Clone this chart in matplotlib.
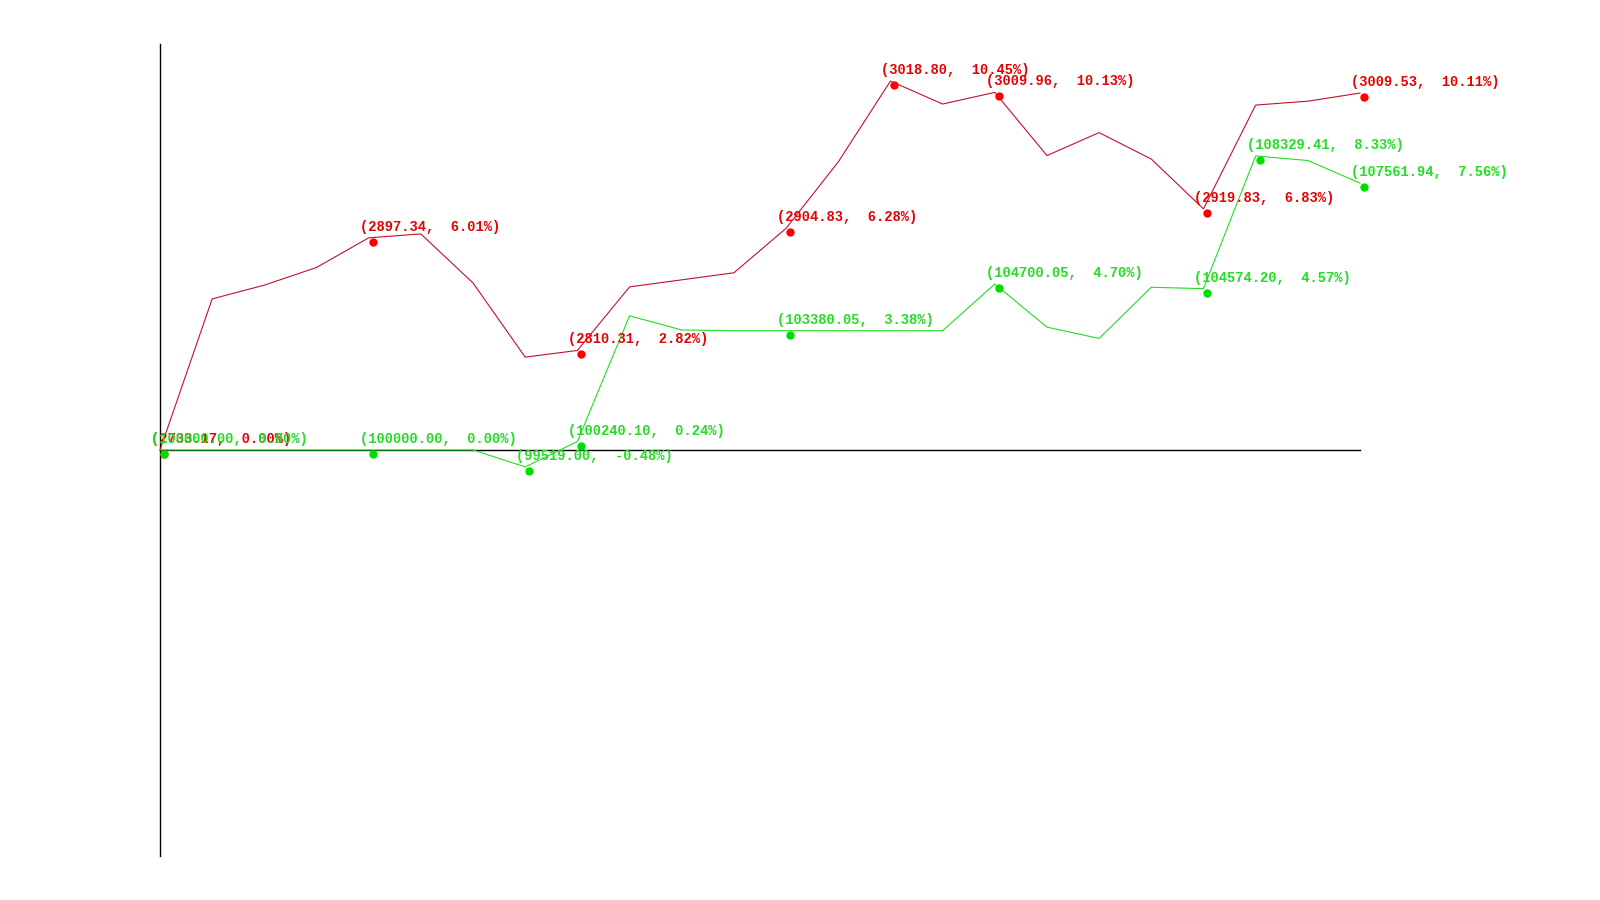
import matplotlib
matplotlib.use("Agg")
import matplotlib.pyplot as plt
import matplotlib.transforms as mtransforms

# Cumulative return (%) per period
red_pct = [0.00, 4.28, 4.67, 5.17, 6.01, 6.12, 4.73, 2.63, 2.82, 4.62, 4.82, 5.02,
           6.28, 8.16, 10.45, 9.80, 10.13, 8.34, 8.99, 8.24, 6.83, 9.77, 9.88, 10.11]
green_pct = [0.00, 0.00, 0.00, 0.00, 0.00, 0.00, 0.00, -0.48, 0.24, 3.80, 3.40, 3.38,
             3.38, 3.38, 3.38, 3.38, 4.70, 3.48, 3.16, 4.61, 4.57, 8.33, 8.20, 7.56]

# Annotated points
red_idx = [0, 4, 8, 12, 14, 16, 20, 23]
red_val = [2733.17, 2897.34, 2810.31, 2904.83, 3018.80, 3009.96, 2919.83, 3009.53]
red_lab_pct = [0.00, 6.01, 2.82, 6.28, 10.45, 10.13, 6.83, 10.11]

green_idx = [0, 4, 7, 8, 12, 16, 20, 21, 23]
green_val = [100000.00, 100000.00, 99519.00, 100240.10, 103380.05, 104700.05,
             104574.20, 108329.41, 107561.94]
green_lab_pct = [0.00, 0.00, -0.48, 0.24, 3.38, 4.70, 4.57, 8.33, 7.56]

RED_LINE = "#c4102e"
RED_DOT = "#ff0000"
RED_TXT = "#e60000"
GREEN = "#22dd22"
GREEN_DOT = "#00dd00"

fig = plt.figure(figsize=(16, 9), dpi=100)
ax = fig.add_axes([0.1, (900 - 856) / 900, 0.75, 812 / 900])
x = list(range(len(red_pct)))
ax.set_xlim(0, len(red_pct) - 1)
ax.set_ylim(-11.5, 11.5)

for s in ["top", "right"]:
    ax.spines[s].set_visible(False)
ax.spines["bottom"].set_position(("data", 0))
ax.spines["left"].set_linewidth(1.0)
ax.spines["bottom"].set_linewidth(1.0)
ax.set_xticks([])
ax.set_yticks([])

ax.plot(x, red_pct, color=RED_LINE, lw=0.8, clip_on=False, zorder=3)
ax.plot(x, green_pct, color=GREEN, lw=0.8, clip_on=False, zorder=3)

mk_tr = mtransforms.offset_copy(ax.transData, fig=fig, x=4, y=-4, units="dots")
ax.plot(red_idx, [red_pct[i] for i in red_idx], "o", color=RED_DOT, ms=6,
        mec="none", transform=mk_tr, clip_on=False, zorder=4)
ax.plot(green_idx, [green_pct[i] for i in green_idx], "o", color=GREEN_DOT, ms=6,
        mec="none", transform=mk_tr, clip_on=False, zorder=4)

font = dict(family=["Liberation Mono", "DejaVu Sans Mono"], fontsize=9.9,
            fontweight="bold")
for i, v, p in zip(red_idx, red_val, red_lab_pct):
    ax.annotate(f"({v:.2f},  {p:.2f}%)", (i, red_pct[i]), xytext=(-9, 11),
                textcoords="offset pixels", ha="left", va="center",
                color=RED_TXT, zorder=5, annotation_clip=False, **font)
for i, v, p in zip(green_idx, green_val, green_lab_pct):
    ax.annotate(f"({v:.2f},  {p:.2f}%)", (i, green_pct[i]), xytext=(-9, 11),
                textcoords="offset pixels", ha="left", va="center",
                color=GREEN, zorder=6, annotation_clip=False, **font)

fig.savefig("out.png", dpi=100, facecolor="white")
